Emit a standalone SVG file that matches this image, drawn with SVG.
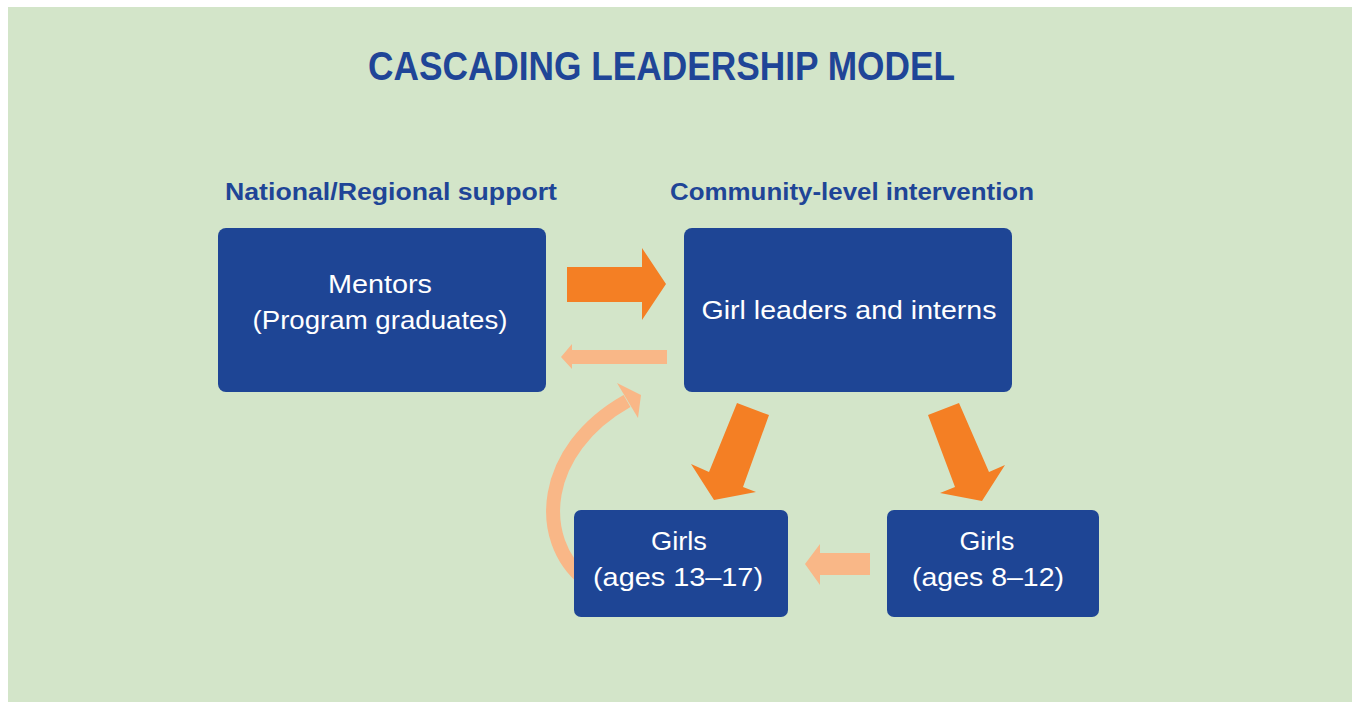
<svg xmlns="http://www.w3.org/2000/svg" width="1353" height="702" viewBox="0 0 1353 702">
<style>
.title{font-family:"Liberation Sans",Arial,sans-serif;font-weight:bold;font-size:40px;fill:#1f4597}
.head{font-family:"Liberation Sans",Arial,sans-serif;font-weight:bold;font-size:24px;fill:#1f4597}
.box{fill:#1e4595}
.lbl{font-family:"Liberation Sans",Arial,sans-serif;font-size:26px;fill:#ffffff;text-anchor:middle}
.strong{fill:#f47f24}
.pale{fill:#f9b787}
</style>
<rect x="0" y="0" width="1353" height="702" fill="#ffffff"/>
<rect x="8" y="7" width="1344" height="695" fill="#d3e5c9"/>
<text class="title" x="368" y="80" textLength="587" lengthAdjust="spacingAndGlyphs">CASCADING LEADERSHIP MODEL</text>
<text class="head" x="225" y="200" textLength="332" lengthAdjust="spacingAndGlyphs">National/Regional support</text>
<text class="head" x="670" y="200" textLength="364" lengthAdjust="spacingAndGlyphs">Community-level intervention</text>
<g id="connectors">
<polygon class="strong" points="567,267 642,267 642,248 666,284 642,320 642,302 567,302"/>
<polygon class="pale" points="667,350 572,350 572,344 561,357 572,369 572,364 667,364"/>
<polygon class="strong" points="737,403 769,415 743,487 756,492 714,500 691,464 709,472"/>
<polygon class="strong" points="928,415 959,403 989,472 1005,465 982,501 940,493 955,487"/>
<polygon class="pale" points="870,553 820,553 820,544 805,564 820,585 820,575 870,575"/>
<path d="M585,580 C535,540 540,450 627,401" fill="none" stroke="#f9b787" stroke-width="14"/>
<polygon class="pale" points="617,383 641,395 638,418"/>
</g>
<g id="mentors">
<rect class="box" x="218" y="228" width="328" height="164" rx="8"/>
<text class="lbl" x="380" y="293" textLength="104" lengthAdjust="spacingAndGlyphs">Mentors</text>
<text class="lbl" x="380" y="329" textLength="255" lengthAdjust="spacingAndGlyphs">(Program graduates)</text>
</g>
<g id="leaders">
<rect class="box" x="684" y="228" width="328" height="164" rx="8"/>
<text class="lbl" x="849" y="319" textLength="295" lengthAdjust="spacingAndGlyphs">Girl leaders and interns</text>
</g>
<g id="girls1317">
<rect class="box" x="574" y="510" width="214" height="107" rx="7"/>
<text class="lbl" x="679" y="550" textLength="56" lengthAdjust="spacingAndGlyphs">Girls</text>
<text class="lbl" x="678" y="586" textLength="170" lengthAdjust="spacingAndGlyphs">(ages 13–17)</text>
</g>
<g id="girls812">
<rect class="box" x="887" y="510" width="212" height="107" rx="7"/>
<text class="lbl" x="987" y="550" textLength="55" lengthAdjust="spacingAndGlyphs">Girls</text>
<text class="lbl" x="988" y="586" textLength="152" lengthAdjust="spacingAndGlyphs">(ages 8–12)</text>
</g>
</svg>
